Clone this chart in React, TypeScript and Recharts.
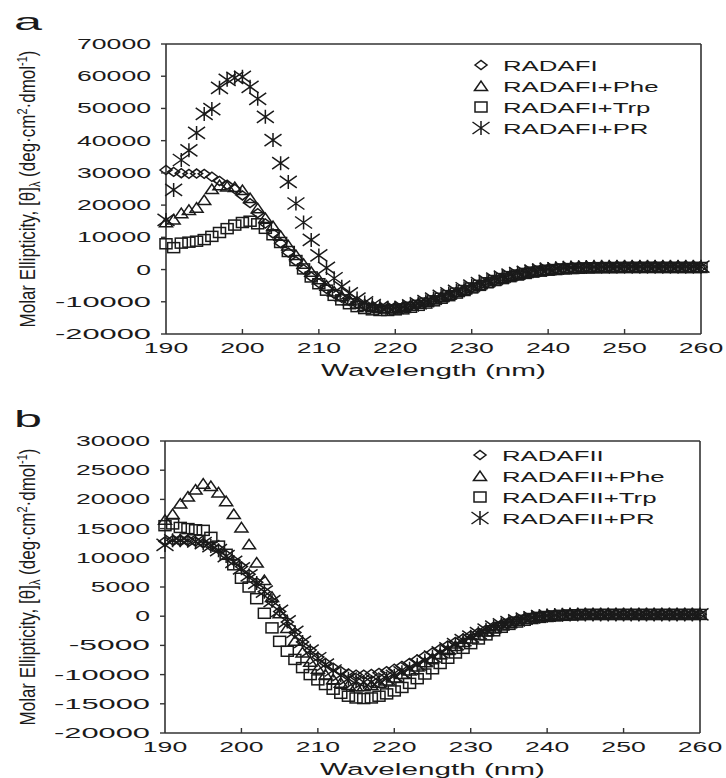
import React from 'react';
import { ScatterChart, Scatter, XAxis, YAxis, Legend, ReferenceLine } from 'recharts';

const wavelength = [
  190, 191, 192, 193, 194, 195, 196, 197, 198, 199,
  200, 201, 202, 203, 204, 205, 206, 207, 208, 209,
  210, 211, 212, 213, 214, 215, 216, 217, 218, 219,
  220, 221, 222, 223, 224, 225, 226, 227, 228, 229,
  230, 231, 232, 233, 234, 235, 236, 237, 238, 239,
  240, 241, 242, 243, 244, 245, 246, 247, 248, 249,
  250, 251, 252, 253, 254, 255, 256, 257, 258, 259, 260,
];

// panel a
const radafi = [
  30900, 30300, 29900, 29700, 29800, 29700, 28800, 27500, 26300, 25000,
  23000, 20600, 17500, 14300, 11200, 8200, 5300, 2600, 100, -2200,
  -4200, -6000, -7500, -8800, -9800, -10600, -11200, -11600, -11900, -12000,
  -11900, -11600, -11200, -10700, -10100, -9500, -8800, -8100, -7300, -6500,
  -5700, -4900, -4200, -3500, -2900, -2300, -1700, -1200, -800, -400,
  -100, 200, 400, 550, 650, 750, 800, 820, 850, 850,
  860, 860, 850, 850, 840, 840, 830, 830, 820, 820, 800,
];
const radafiPhe = [
  14700, 15500, 17500, 18500, 19200, 21600, 25000, 26200, 25800, 25600,
  24700, 22200, 19000, 16000, 13500, 10500, 7500, 4500, 1800, -700,
  -3000, -5000, -6800, -8300, -9500, -10500, -11200, -11700, -12000, -12100,
  -12000, -11700, -11200, -10600, -10000, -9300, -8600, -7800, -7000, -6300,
  -5600, -4800, -4100, -3400, -2700, -2100, -1600, -1100, -700, -400,
  -100, 150, 350, 500, 600, 700, 750, 800, 800, 800,
  800, 800, 800, 800, 780, 780, 780, 760, 760, 750, 750,
];
const radafiTrp = [
  8000, 6800, 8200, 8500, 8800, 9300, 10300, 11500, 12700, 13800,
  14600, 15000, 14200, 12800, 10800, 8400, 5600, 2800, 200, -2300,
  -4400, -6400, -8000, -9400, -10600, -11500, -12100, -12500, -12700, -12700,
  -12500, -12200, -11700, -11100, -10400, -9700, -8900, -8100, -7300, -6500,
  -5700, -4900, -4100, -3400, -2800, -2200, -1700, -1200, -800, -500,
  -200, 0, 200, 300, 400, 500, 550, 600, 600, 620,
  650, 650, 650, 660, 660, 650, 650, 650, 640, 640, 640,
];
const radafiPr = [
  15400, 24700, 34000, 37000, 42400, 48300, 49800, 56400, 58900, 59500,
  59800, 56700, 53000, 47400, 40200, 33000, 27200, 20500, 14600, 9200,
  4400, 500, -2700, -5300, -7400, -9000, -10200, -11000, -11600, -11900,
  -11900, -11600, -11100, -10500, -9800, -9000, -8200, -7400, -6600, -5800,
  -5000, -4200, -3500, -2800, -2200, -1600, -1100, -700, -300, 0,
  200, 400, 550, 650, 750, 800, 850, 850, 880, 900,
  900, 900, 900, 900, 900, 900, 900, 880, 880, 880, 880,
];

// panel b
const radafii = [
  12800, 13000, 13000, 13000, 12800, 12500, 12000, 11500, 10500, 9500,
  8500, 7200, 5800, 4200, 2500, 800, -1000, -2800, -4400, -5800,
  -7000, -8000, -8800, -9400, -9800, -10000, -10000, -9900, -9700, -9400,
  -9000, -8500, -8000, -7400, -6800, -6200, -5600, -5000, -4400, -3800,
  -3300, -2800, -2300, -1800, -1400, -1000, -700, -400, -200, 0,
  100, 200, 250, 300, 300, 300, 350, 350, 350, 350,
  350, 350, 350, 350, 350, 350, 350, 350, 350, 350, 350,
];
const radafiiPhe = [
  16500, 17500, 19300, 20500, 21700, 22700, 22300, 21200, 19700, 17500,
  15200, 12300, 9200, 6200, 3300, 500, -2000, -4200, -6200, -7800,
  -9000, -10000, -10800, -11400, -11800, -12000, -12000, -11800, -11400, -11000,
  -10500, -9900, -9300, -8600, -7900, -7200, -6500, -5800, -5100, -4400,
  -3800, -3200, -2600, -2100, -1600, -1200, -800, -500, -200, 0,
  100, 200, 250, 300, 300, 300, 300, 300, 300, 300,
  300, 300, 300, 300, 300, 300, 300, 300, 300, 300, 300,
];
const radafiiTrp = [
  15500, 15800, 15200, 15000, 14800, 14700, 13500, 12000, 10600, 8800,
  6500, 5000, 3000, 500, -2000, -4300, -6000, -7400, -8800, -10000,
  -10900, -11700, -12500, -13200, -13700, -14000, -14100, -14000, -13700, -13300,
  -12800, -12200, -11500, -10700, -9900, -9000, -8100, -7200, -6300, -5500,
  -4700, -3900, -3200, -2500, -1900, -1400, -1000, -700, -400, -200,
  -50, 50, 150, 200, 250, 300, 300, 300, 300, 300,
  300, 300, 300, 300, 300, 300, 300, 300, 300, 300, 300,
];
const radafiiPr = [
  12200, 13000, 13000, 13000, 12800, 12500, 12000, 11300, 10300, 9300,
  8200, 7000, 5700, 4200, 2600, 900, -900, -2700, -4400, -5900,
  -7200, -8300, -9300, -10100, -10700, -11100, -11300, -11300, -11100, -10700,
  -10200, -9600, -9000, -8300, -7600, -6900, -6200, -5500, -4800, -4100,
  -3500, -2900, -2300, -1800, -1400, -1000, -700, -400, -200, 0,
  100, 200, 250, 300, 300, 300, 300, 300, 300, 300,
  300, 300, 300, 300, 300, 300, 300, 300, 300, 300, 300,
];

const xTicks = [190, 200, 210, 220, 230, 240, 250, 260];
const yTicksA = [-20000, -10000, 0, 10000, 20000, 30000, 40000, 50000, 60000, 70000];
const yTicksB = [-20000, -15000, -10000, -5000, 0, 5000, 10000, 15000, 20000, 25000, 30000];
const namesA = ['RADAFI', 'RADAFI+Phe', 'RADAFI+Trp', 'RADAFI+PR'];
const namesB = ['RADAFII', 'RADAFII+Phe', 'RADAFII+Trp', 'RADAFII+PR'];
const kinds = ['diamond', 'triangle', 'square', 'star'];

const FONT = '"Liberation Sans", Arial, sans-serif';
const INK = '#1a1a1a';
const AXIS = '#333';

const toPoints = (values: number[]) => wavelength.map((x, i) => ({ x, y: values[i] }));

const Marker = ({ cx, cy, kind }: { cx?: number; cy?: number; kind: string }) => {
  if (cx == null || cy == null) return null;
  const st = { fill: 'none', stroke: INK, strokeWidth: 1.5 };
  if (kind === 'diamond')
    return <path d={`M${cx - 6},${cy}L${cx},${cy - 4.5}L${cx + 6},${cy}L${cx},${cy + 4.5}Z`} {...st} />;
  if (kind === 'triangle')
    return <path d={`M${cx - 6.5},${cy + 4.5}L${cx},${cy - 5}L${cx + 6.5},${cy + 4.5}Z`} {...st} />;
  if (kind === 'square') return <rect x={cx - 6} y={cy - 5} width={12} height={10} {...st} />;
  return (
    <path
      d={`M${cx - 8.5},${cy - 6}L${cx + 8.5},${cy + 6}M${cx - 8.5},${cy + 6}L${cx + 8.5},${cy - 6}M${cx},${cy - 7}L${cx},${cy + 7}`}
      {...st}
    />
  );
};

// width of a tick label as it appears in the reference (wide, stretched digits)
const tickWidth = (v: number) => {
  const s = String(v);
  const digits = s.replace('-', '').length;
  return digits * 14.8 + (s.startsWith('-') ? 22 : 0);
};

const XTick = ({ x, y, payload }: any) => (
  <g>
    {payload.value !== 190 && payload.value !== 260 && (
      <line x1={x} x2={x} y1={y} y2={y - 5} stroke={AXIS} strokeWidth={1.4} />
    )}
    <text
      x={x}
      y={y + 19}
      textAnchor="middle"
      fontSize={14}
      fontFamily={FONT}
      fill={INK}
      textLength={tickWidth(payload.value)}
      lengthAdjust="spacingAndGlyphs"
    >
      {payload.value}
    </text>
  </g>
);

const YTick = ({ x, y, payload }: any) => (
  <g>
    <line x1={x - 5} x2={x} y1={y} y2={y} stroke={AXIS} strokeWidth={1.4} />
    <text
      x={x - 15 - tickWidth(payload.value)}
      y={y + 5}
      fontSize={14}
      fontFamily={FONT}
      fill={INK}
      textLength={tickWidth(payload.value)}
      lengthAdjust="spacingAndGlyphs"
    >
      {payload.value}
    </text>
  </g>
);

const XLabel = ({ viewBox }: any) => {
  if (!viewBox) return null;
  return (
    <text
      transform={`translate(${viewBox.x + viewBox.width / 2},${viewBox.y + 42}) scale(1.8,1)`}
      textAnchor="middle"
      fontSize={16.5}
      fontFamily={FONT}
      fill={INK}
    >
      Wavelength (nm)
    </text>
  );
};

const YLabel = ({ viewBox, letter }: any) => {
  if (!viewBox) return null;
  const cy = viewBox.y + viewBox.height / 2;
  return (
    <g>
      <text transform={`translate(14,${viewBox.y - 14}) scale(2.1,1)`} fontSize={24} fontFamily={FONT} fill={INK}>
        {letter}
      </text>
      <text
        transform={`translate(35,${cy}) rotate(-90) scale(1,1.3)`}
        textAnchor="middle"
        fontSize={17}
        fontFamily={FONT}
        fill={INK}
      >
        Molar Ellipticity, [θ]
        <tspan fontSize={11} dy={4}>λ</tspan>
        <tspan dy={-4}> (deg·cm</tspan>
        <tspan fontSize={11} dy={-6}>2</tspan>
        <tspan dy={6}>·dmol</tspan>
        <tspan fontSize={11} dy={-6}>-1</tspan>
        <tspan dy={6}>)</tspan>
      </text>
    </g>
  );
};

const LegendBox = ({ names }: { names: string[] }) => (
  <svg width={240} height={92}>
    {names.map((n, i) => {
      const cy = 14 + i * 21;
      return (
        <g key={n}>
          <Marker cx={11} cy={cy} kind={kinds[i]} />
          <text transform={`translate(33,${cy + 5.5}) scale(1.72,1)`} fontSize={15} fontFamily={FONT} fill={INK}>
            {n}
          </text>
        </g>
      );
    })}
  </svg>
);

interface PanelProps {
  letter: string;
  names: string[];
  series: number[][];
  yDomain: [number, number];
  yTicks: number[];
  height: number;
  margin: { top: number; right: number; bottom: number; left: number };
  legendLeft: number;
}

const Panel = ({ letter, names, series, yDomain, yTicks, height, margin, legendLeft }: PanelProps) => (
  <ScatterChart width={726} height={height} margin={margin}>
    <XAxis
      type="number"
      dataKey="x"
      domain={[190, 260]}
      ticks={xTicks}
      interval={0}
      tickSize={0}
      tickMargin={0}
      tickLine={false}
      height={30}
      axisLine={{ stroke: AXIS, strokeWidth: 1.6 }}
      tick={<XTick />}
      label={<XLabel />}
    />
    <YAxis
      type="number"
      dataKey="y"
      domain={yDomain}
      ticks={yTicks}
      interval={0}
      tickSize={0}
      tickMargin={0}
      tickLine={false}
      width={100}
      axisLine={{ stroke: AXIS, strokeWidth: 1.6 }}
      tick={<YTick />}
      label={<YLabel letter={letter} />}
    />
    <ReferenceLine y={yDomain[1]} stroke={AXIS} strokeWidth={1.6} />
    <ReferenceLine x={260} stroke={AXIS} strokeWidth={1.6} />
    {series.map((vals, i) => (
      <Scatter
        key={names[i]}
        name={names[i]}
        data={toPoints(vals)}
        isAnimationActive={false}
        shape={(p: any) => <Marker cx={p.cx} cy={p.cy} kind={kinds[i]} />}
      />
    ))}
    <Legend
      layout="vertical"
      align="center"
      verticalAlign="middle"
      wrapperStyle={{ left: legendLeft, top: 51, right: 'auto', bottom: 'auto', width: 240, margin: 0 }}
      content={() => <LegendBox names={names} />}
    />
  </ScatterChart>
);

export default function App() {
  return (
    <div style={{ position: 'absolute', left: 0, top: 0, width: 726, height: 778, background: '#fff' }}>
      <div style={{ position: 'absolute', left: 0, top: 0 }}>
        <Panel
          letter="a"
          names={namesA}
          series={[radafi, radafiPhe, radafiTrp, radafiPr]}
          yDomain={[-20000, 70000]}
          yTicks={yTicksA}
          height={390}
          margin={{ top: 44, right: 25, bottom: 26, left: 66 }}
          legendLeft={470}
        />
      </div>
      <div style={{ position: 'absolute', left: 0, top: 390 }}>
        <Panel
          letter="b"
          names={namesB}
          series={[radafii, radafiiPhe, radafiiTrp, radafiiPr]}
          yDomain={[-20000, 30000]}
          yTicks={yTicksB}
          height={388}
          margin={{ top: 51, right: 26, bottom: 15, left: 65 }}
          legendLeft={469}
        />
      </div>
    </div>
  );
}
